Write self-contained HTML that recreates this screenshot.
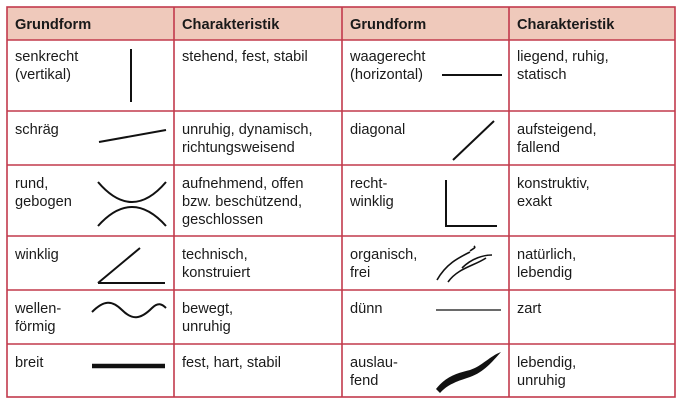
<!DOCTYPE html>
<html><head><meta charset="utf-8"><style>
body{margin:0;background:#fff;}
svg text{font-family:"Liberation Sans",sans-serif;font-size:14.6px;fill:#1a1a1a;}
.h{font-weight:bold;}
</style></head><body>
<svg width="687" height="407" viewBox="0 0 687 407" xmlns="http://www.w3.org/2000/svg">
<rect x="7" y="7" width="668" height="33" fill="#efc9bb"/>
<g stroke="#c23a4c" stroke-width="1.6" fill="none">
<rect x="7" y="7" width="668" height="390"/>
<line x1="7" y1="40" x2="675" y2="40"/>
<line x1="7" y1="111" x2="675" y2="111"/>
<line x1="7" y1="165" x2="675" y2="165"/>
<line x1="7" y1="236" x2="675" y2="236"/>
<line x1="7" y1="290" x2="675" y2="290"/>
<line x1="7" y1="344" x2="675" y2="344"/>
<line x1="174" y1="7" x2="174" y2="397"/>
<line x1="342" y1="7" x2="342" y2="397"/>
<line x1="509" y1="7" x2="509" y2="397"/>
</g>
<text class="h" x="15" y="29">Grundform</text>
<text class="h" x="182" y="29">Charakteristik</text>
<text class="h" x="350" y="29">Grundform</text>
<text class="h" x="517" y="29">Charakteristik</text>
<text x="15" y="61">senkrecht</text><text x="15" y="79">(vertikal)</text>
<text x="182" y="61">stehend, fest, stabil</text>
<text x="350" y="61">waagerecht</text><text x="350" y="79">(horizontal)</text>
<text x="517" y="61">liegend, ruhig,</text><text x="517" y="79">statisch</text>
<text x="15" y="134">schräg</text>
<text x="182" y="134">unruhig, dynamisch,</text><text x="182" y="152">richtungsweisend</text>
<text x="350" y="134">diagonal</text>
<text x="517" y="134">aufsteigend,</text><text x="517" y="152">fallend</text>
<text x="15" y="188">rund,</text><text x="15" y="206">gebogen</text>
<text x="182" y="188">aufnehmend, offen</text><text x="182" y="206">bzw. beschützend,</text><text x="182" y="224">geschlossen</text>
<text x="350" y="188">recht-</text><text x="350" y="206">winklig</text>
<text x="517" y="188">konstruktiv,</text><text x="517" y="206">exakt</text>
<text x="15" y="259">winklig</text>
<text x="182" y="259">technisch,</text><text x="182" y="277">konstruiert</text>
<text x="350" y="259">organisch,</text><text x="350" y="277">frei</text>
<text x="517" y="259">natürlich,</text><text x="517" y="277">lebendig</text>
<text x="15" y="313">wellen-</text><text x="15" y="331">förmig</text>
<text x="182" y="313">bewegt,</text><text x="182" y="331">unruhig</text>
<text x="350" y="313">dünn</text>
<text x="517" y="313">zart</text>
<text x="15" y="367">breit</text>
<text x="182" y="367">fest, hart, stabil</text>
<text x="350" y="367">auslau-</text><text x="350" y="385">fend</text>
<text x="517" y="367">lebendig,</text><text x="517" y="385">unruhig</text>
<g stroke="#111" fill="none" stroke-width="2">
<line x1="131" y1="49" x2="131" y2="102"/>
<line x1="99" y1="142" x2="166" y2="130"/>
<path d="M98 182 Q132 222 166 182"/>
<path d="M98 226 Q132 188 166 226"/>
<path d="M98 283 L140 248 M98 283 L165 283"/>
<path d="M92 312 C104 300 112 300 122 310 C132 320 140 320 152 308 C158 302 162 304 166 308"/>
<line x1="92" y1="366" x2="165" y2="366" stroke-width="4.5"/>
<line x1="442" y1="75" x2="502" y2="75"/>
<line x1="453" y1="160" x2="494" y2="121"/>
<path d="M446 180 L446 226 L497 226"/>
<path d="M437 280 C446 264 458 258 470 252 M448 282 C458 268 474 266 486 258 M462 268 C472 258 484 255 492 255 M470 251 C474 248 476 248 474 246" stroke-width="1.6"/>
<line x1="436" y1="310" x2="501" y2="310" stroke-width="1.2"/>
</g>
<path d="M436 389 C446 376 458 373 470 370 C482 366 490 356 501 352 C492 362 484 372 470 377 C458 381 448 384 440 393 Z" fill="#111"/>
</svg>
</body></html>
